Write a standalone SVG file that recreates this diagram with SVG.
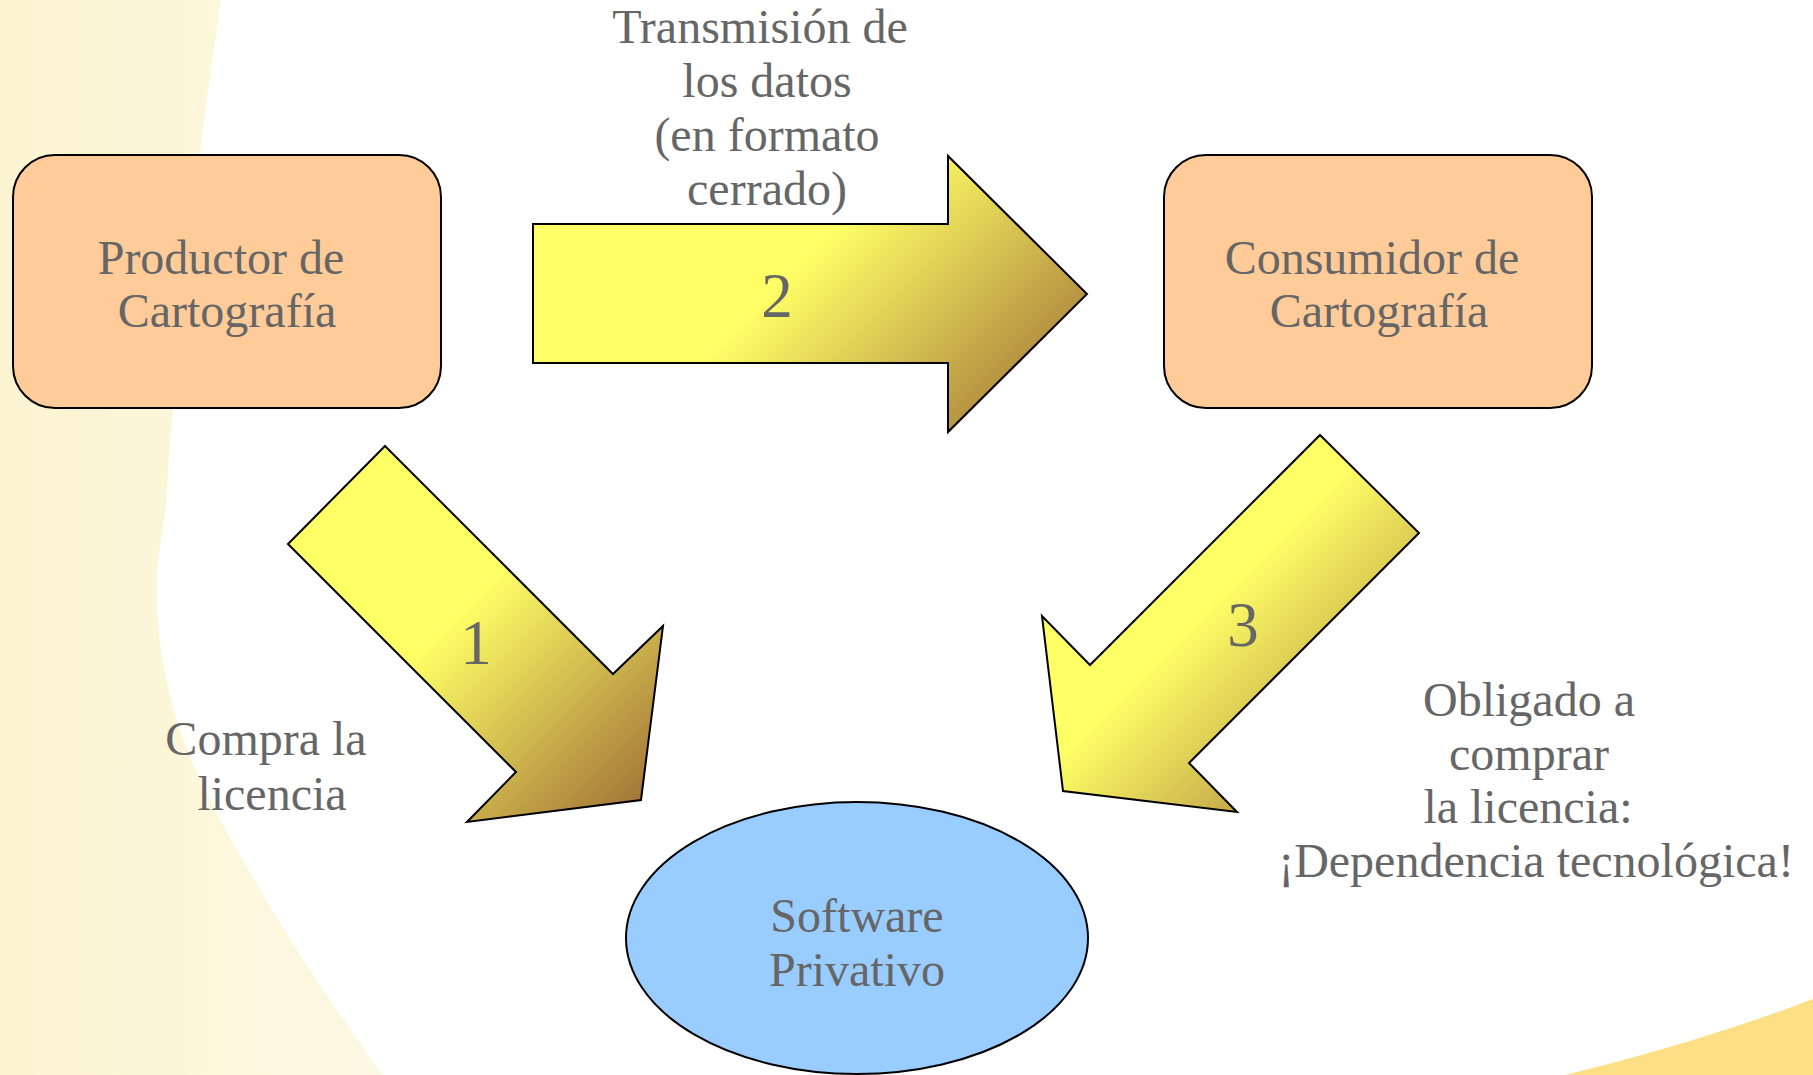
<svg xmlns="http://www.w3.org/2000/svg" width="1813" height="1075" viewBox="0 0 1813 1075">
  <style>
    .t { font-family: "Liberation Serif", "Times New Roman", serif; font-size: 48px; fill: #666666; text-anchor: middle; }
    .num { font-family: "Liberation Serif", "Times New Roman", serif; font-size: 63px; fill: #666666; text-anchor: middle; }
    .box { fill: #ffcc99; stroke: #000000; stroke-width: 2; }
    .ell { fill: #99ccff; stroke: #000000; stroke-width: 2; }
    .arrow { stroke: #000000; stroke-width: 2; stroke-linejoin: miter; }
  </style>
  <defs>
    <linearGradient id="bgLeft" x1="0" y1="0" x2="380" y2="0" gradientUnits="userSpaceOnUse">
      <stop offset="0" stop-color="#fcf4d0"/>
      <stop offset="1" stop-color="#fdf8e4"/>
    </linearGradient>
    <linearGradient id="g1" x1="288" y1="446" x2="663" y2="822" gradientUnits="userSpaceOnUse">
      <stop offset="0" stop-color="#ffff66"/>
      <stop offset="0.45" stop-color="#ffff66"/>
      <stop offset="1" stop-color="#996633"/>
    </linearGradient>
    <linearGradient id="g2" x1="602.5" y1="86.5" x2="1017.5" y2="501.5" gradientUnits="userSpaceOnUse">
      <stop offset="0" stop-color="#ffff66"/>
      <stop offset="0.45" stop-color="#ffff66"/>
      <stop offset="1" stop-color="#996633"/>
    </linearGradient>
    <linearGradient id="g3" x1="1042" y1="435" x2="1419" y2="812" gradientUnits="userSpaceOnUse">
      <stop offset="0" stop-color="#ffff66"/>
      <stop offset="0.45" stop-color="#ffff66"/>
      <stop offset="1" stop-color="#996633"/>
    </linearGradient>
  </defs>

  <g id="background">
    <rect x="0" y="0" width="1813" height="1075" fill="#ffffff"/>
    <path d="M0,0 L221,0 C205,110 178,300 166,505 L158,560 C152,640 170,720 205,790 C250,880 320,990 383,1075 L0,1075 Z" fill="url(#bgLeft)"/>
    <path d="M1565,1075 Q1700,1042 1813,999 L1813,1075 Z" fill="#fddf86"/>
  </g>

  <g id="connectors">
    <g id="arrow1">
      <polygon class="arrow" fill="url(#g1)" points="385,446 613,674 663,626 641,800 467,822 516,772 288,544"/>
      <text class="num" x="476" y="664">1</text>
    </g>
    <g id="arrow2">
      <polygon class="arrow" fill="url(#g2)" points="533,224 948,224 948,156 1087,294 948,432 948,363 533,363"/>
      <text class="num" x="777" y="317">2</text>
    </g>
    <g id="arrow3">
      <polygon class="arrow" fill="url(#g3)" points="1320,435 1419,533 1189,763 1237,812 1063,791 1042,616 1090,665"/>
      <text class="num" x="1243" y="646">3</text>
    </g>
    <g id="label-transmision">
      <text class="t" x="760" y="43">Transmisión de</text>
      <text class="t" x="767" y="97">los datos</text>
      <text class="t" x="767" y="151">(en formato</text>
      <text class="t" x="767" y="205">cerrado)</text>
    </g>
    <g id="label-compra">
      <text class="t" x="266" y="755">Compra la</text>
      <text class="t" x="272" y="810">licencia</text>
    </g>
    <g id="label-obligado">
      <text class="t" x="1529" y="716">Obligado a</text>
      <text class="t" x="1529" y="770">comprar</text>
      <text class="t" x="1528" y="823">la licencia:</text>
      <text class="t" x="1536" y="877">¡Dependencia tecnológica!</text>
    </g>
  </g>

  <g id="productor">
    <rect class="box" x="13" y="155" width="428" height="253" rx="42" ry="42"/>
    <text class="t" x="221" y="274">Productor de</text>
    <text class="t" x="227" y="327">Cartografía</text>
  </g>

  <g id="consumidor">
    <rect class="box" x="1164" y="155" width="428" height="253" rx="42" ry="42"/>
    <text class="t" x="1372" y="274">Consumidor de</text>
    <text class="t" x="1379" y="327">Cartografía</text>
  </g>

  <g id="software">
    <ellipse class="ell" cx="857" cy="938" rx="231" ry="136"/>
    <text class="t" x="857" y="932">Software</text>
    <text class="t" x="857" y="986">Privativo</text>
  </g>
</svg>
